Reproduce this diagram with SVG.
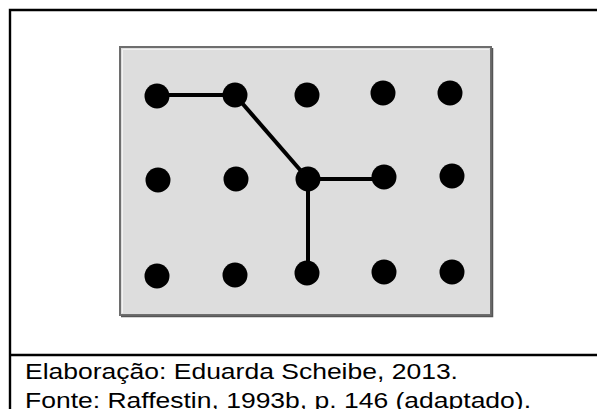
<svg xmlns="http://www.w3.org/2000/svg" width="597" height="409" viewBox="0 0 597 409">
  <style>
    .frame { stroke: #000; stroke-width: 2.4; fill: none; }
    .panel { fill: #dddddd; stroke: #6e6e6e; stroke-width: 2; }
    .hilite { fill: none; stroke: #f2f2f2; stroke-width: 1; }
    .shade { fill: none; stroke: #555; stroke-width: 1.5; }
    .dot { fill: #000; }
    .link { stroke: #000; stroke-width: 4; fill: none; }
    .caption { font-family: "Liberation Sans", Arial, sans-serif; font-size: 22.5px; fill: #000; }
  </style>

  <rect width="597" height="409" fill="#fff"/>

  <!-- table frame: left rule, top rule and caption divider -->
  <g id="frame">
    <path class="frame" d="M10,409 V10 H597"/>
    <path class="frame" d="M10,355 H597"/>
  </g>

  <!-- grey panel with a light inner edge and darker lower-right edge -->
  <g id="panel">
    <rect class="panel" x="120" y="47" width="371" height="268"/>
    <path class="hilite" d="M122.5,313 V49.5 H489"/>
    <path class="shade" d="M121,316.5 H492.5 V48"/>
  </g>

  <!-- links between points -->
  <g id="connectors">
    <path class="link" d="M157,95 H235"/>
    <path class="link" d="M235,95 L308,179"/>
    <path class="link" d="M308,179 H384"/>
    <path class="link" d="M308,179 V273"/>
  </g>

  <!-- points, row by row -->
  <g id="n-1-1"><circle class="dot" cx="157" cy="96" r="12.5"/></g>
  <g id="n-1-2"><circle class="dot" cx="235" cy="95" r="12.5"/></g>
  <g id="n-1-3"><circle class="dot" cx="307" cy="95" r="12.5"/></g>
  <g id="n-1-4"><circle class="dot" cx="383" cy="93" r="12.5"/></g>
  <g id="n-1-5"><circle class="dot" cx="450" cy="93" r="12.5"/></g>

  <g id="n-2-1"><circle class="dot" cx="158" cy="180" r="12.5"/></g>
  <g id="n-2-2"><circle class="dot" cx="236" cy="179" r="12.5"/></g>
  <g id="n-2-3"><circle class="dot" cx="308" cy="179" r="12.5"/></g>
  <g id="n-2-4"><circle class="dot" cx="384" cy="177" r="12.5"/></g>
  <g id="n-2-5"><circle class="dot" cx="452" cy="176" r="12.5"/></g>

  <g id="n-3-1"><circle class="dot" cx="157" cy="276" r="12.5"/></g>
  <g id="n-3-2"><circle class="dot" cx="235" cy="275" r="12.5"/></g>
  <g id="n-3-3"><circle class="dot" cx="307" cy="273" r="12.5"/></g>
  <g id="n-3-4"><circle class="dot" cx="384" cy="272" r="12.5"/></g>
  <g id="n-3-5"><circle class="dot" cx="452" cy="272" r="12.5"/></g>

  <!-- caption -->
  <g id="caption">
    <text class="caption" x="25" y="379" textLength="433" lengthAdjust="spacingAndGlyphs">Elaboração: Eduarda Scheibe, 2013.</text>
    <text class="caption" x="25" y="408" textLength="506" lengthAdjust="spacingAndGlyphs">Fonte: Raffestin, 1993b, p. 146 (adaptado).</text>
  </g>
</svg>
